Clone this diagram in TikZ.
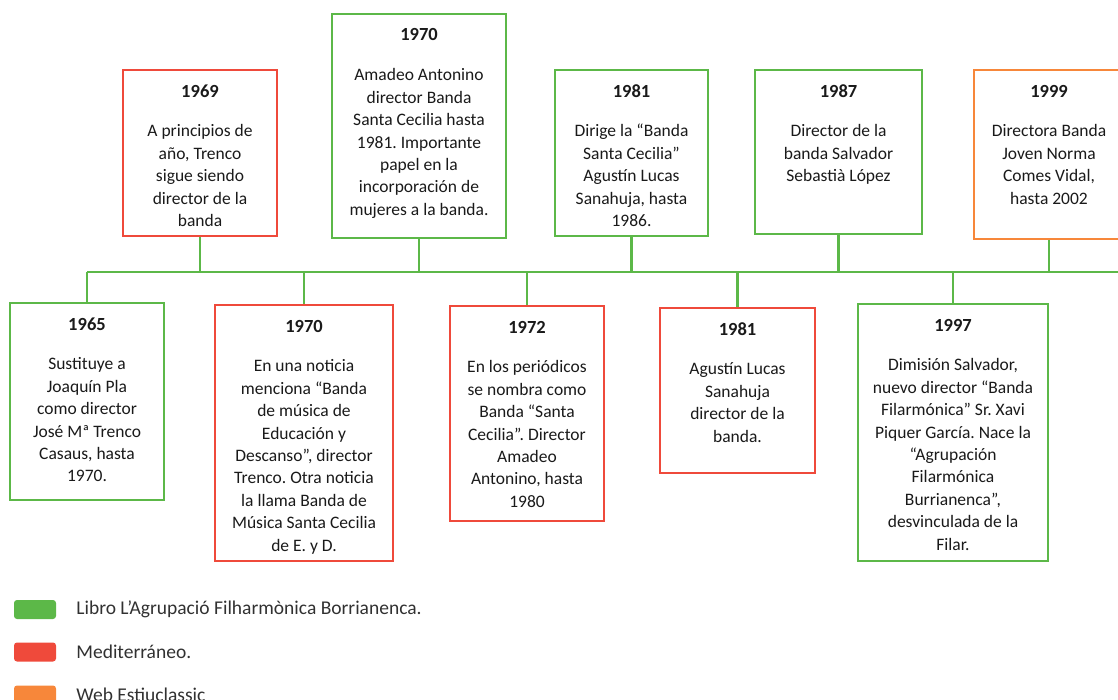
\documentclass[tikz,border=0pt]{standalone}
\usepackage{fontspec}
\setmainfont{Carlito}
\frenchspacing
\usetikzlibrary{positioning}
\definecolor{src_green}{HTML}{5CB848}
\definecolor{src_red}{HTML}{EF4A3B}
\definecolor{src_orange}{HTML}{F7873A}
\definecolor{txt_dark}{HTML}{1A1A1A}

\begin{document}
\begin{tikzpicture}[
	    x=1pt, y=-1pt,
	    year/.style={font=\fontsize{18.5}{22.4}\selectfont\bfseries, text=txt_dark, inner sep=0},
	    body/.style={align=center, font=\fontsize{17.5}{22.4}\selectfont, text=txt_dark, inner sep=0, anchor=north},
	    box/.style={rectangle, line width=2pt, inner sep=0, fill=white},
	    greenbox/.style={box, draw=src_green},
	    redbox/.style={box, draw=src_red},
	    orangebox/.style={box, draw=src_orange},
	    normalline/.style={draw=src_green, line width=2.2pt},
	    legendbox/.style={rectangle, rounded corners=3pt, minimum width=42, minimum height=19, inner sep=0},
	    legendtext/.style={font=\fontsize{19.5}{24}\selectfont, text=txt_dark!90, inner sep=0, anchor=west},
	]
	\useasboundingbox (0,0) rectangle (1118,700);

	% ------------ Top row

	\node[redbox, minimum width=154, minimum height=166] (top69) at (200,153) {};
	\node[year] (top69year) at ([yshift=-22pt]top69.north) {1969};
	\node[body] (top69text) at ([yshift=-52pt]top69.north) {\strut A principios de\\año, Trenco\\sigue siendo\\director de la\\banda};

	\node[greenbox, minimum width=174, minimum height=224] (top70) at (419,126) {};
	\node[year] (top70year) at ([yshift=-22pt]top70.north) {1970};
	\node[body] (top70text) at ([yshift=-52pt]top70.north) {\strut Amadeo Antonino\\director Banda\\Santa Cecilia hasta\\1981. Importante\\papel en la\\incorporación de\\mujeres a la banda.};

	\node[greenbox, minimum width=153, minimum height=166] (top81) at (631.5,153) {};
	\node[year] (top81year) at ([yshift=-22pt]top81.north) {1981};
	\node[body] (top81text) at ([yshift=-52pt]top81.north) {\strut Dirige la “Banda\\Santa Cecilia”\\Agustín Lucas\\Sanahuja, hasta\\1986.};

	\node[greenbox, minimum width=167, minimum height=164] (top87) at (838.5,152) {};
	\node[year] (top87year) at ([yshift=-22pt]top87.north) {1987};
	\node[body] (top87text) at ([yshift=-52pt]top87.north) {\strut Director de la\\banda Salvador\\Sebastià López};

	\node[orangebox, minimum width=150, minimum height=169] (top99) at (1049,154.5) {};
	\node[year] (top99year) at ([yshift=-22pt]top99.north) {1999};
	\node[body] (top99text) at ([yshift=-52pt]top99.north) {\strut Directora Banda\\Joven Norma\\Comes Vidal,\\hasta 2002};

	% ------------ Bottom row

	\node[greenbox, minimum width=154, minimum height=197] (bot65) at (87,401.5) {};
	\node[year] (bot65year) at ([yshift=-22pt]bot65.north) {1965};
	\node[body] (bot65text) at ([yshift=-52pt]bot65.north) {\strut Sustituye a\\Joaquín Pla\\como director\\José Mª Trenco\\Casaus, hasta\\1970.};

	\node[redbox, minimum width=178, minimum height=256] (bot70) at (304,433) {};
	\node[year] (bot70year) at ([yshift=-22pt]bot70.north) {1970};
	\node[body] (bot70text) at ([yshift=-52pt]bot70.north) {\strut En una noticia\\menciona “Banda\\de música de\\Educación y\\Descanso”, director\\Trenco. Otra noticia\\la llama Banda de\\Música Santa Cecilia\\de E. y D.};

	\node[redbox, minimum width=154, minimum height=215] (bot72) at (527,413.5) {};
	\node[year] (bot72year) at ([yshift=-22pt]bot72.north) {1972};
	\node[body] (bot72text) at ([yshift=-52pt]bot72.north) {\strut En los periódicos\\se nombra como\\Banda “Santa\\Cecilia”. Director\\Amadeo\\Antonino, hasta\\1980};

	\node[redbox, minimum width=155, minimum height=165] (bot81) at (737.5,390.5) {};
	\node[year] (bot81year) at ([yshift=-22pt]bot81.north) {1981};
	\node[body] (bot81text) at ([yshift=-52pt]bot81.north) {\strut Agustín Lucas\\Sanahuja\\director de la\\banda.};

	\node[greenbox, minimum width=190, minimum height=257] (bot97) at (953,432.5) {};
	\node[year] (bot97year) at ([yshift=-22pt]bot97.north) {1997};
	\node[body] (bot97text) at ([yshift=-52pt]bot97.north) {\strut Dimisión Salvador,\\nuevo director “Banda\\Filarmónica” Sr. Xavi\\Piquer García. Nace la\\“Agrupación\\Filarmónica\\Burrianenca”,\\desvinculada de la\\Filar.};

	% ------------ Timeline

	\coordinate (tlstart) at (bot65.north |- 0,272);
	\coordinate (tlend) at (1122,272);
	\draw [normalline] (tlstart) -- (tlend);

	\foreach \b in {top69,top70,top81,top87,top99}
	    \draw [normalline] (\b.south) -- (\b.south |- tlstart);
	\foreach \b in {bot65,bot70,bot72,bot81,bot97}
	    \draw [normalline] (\b.north) -- (\b.north |- tlstart);

	% ------------ Legend

	\node[legendbox, fill=src_green] (leggreen) at (35,609.5) {};
	\node[legendtext, right=20pt of leggreen] (leggreentext) {Libro L’Agrupació Filharmònica Borrianenca.};
	\node[legendbox, fill=src_red] (legred) at (35,652) {};
	\node[legendtext, right=20pt of legred] (legredtext) {Mediterráneo.};
	\node[legendbox, fill=src_orange] (legorange) at (35,695) {};
	\node[legendtext, right=20pt of legorange] (legorangetext) {Web Estiuclassic};

	\end{tikzpicture}
\end{document}
